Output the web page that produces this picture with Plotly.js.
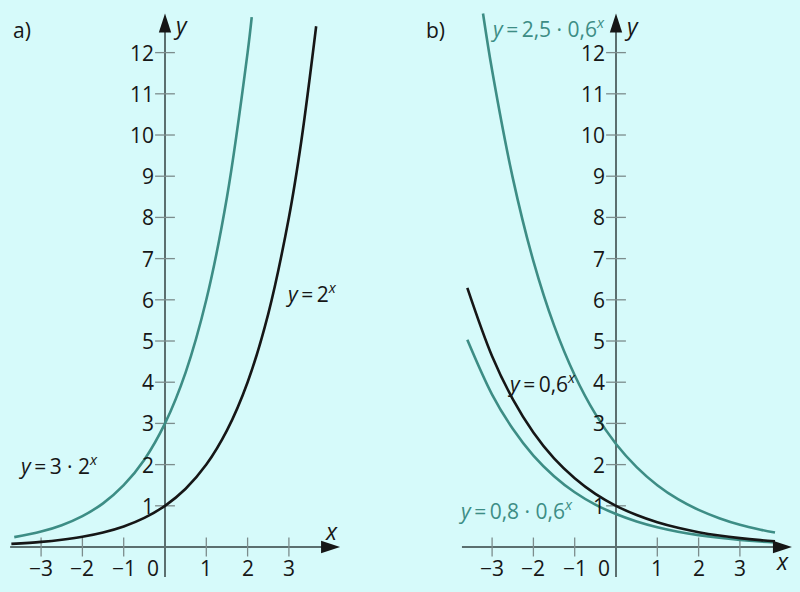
<!DOCTYPE html>
<html>
<head>
<meta charset="utf-8">
<script src="https://cdn.plot.ly/plotly-3.0.1.min.js"></script>
<style>html,body{margin:0;padding:0;background:#d6fafa;}#chart{width:800px;height:592px;}</style>
</head>
<body>
<div id="chart"></div>
<script>
// Panel a) curves
const aX_black = [-3.72, -3, -2.5, -2, -1.5, -1, -0.5, 0, 0.5, 1, 1.5, 2, 2.5, 3, 3.3, 3.66];
const aY_black = [0.076, 0.125, 0.177, 0.25, 0.354, 0.5, 0.707, 1, 1.414, 2, 2.83, 4, 5.66, 8, 9.85, 12.64];
const aX_teal = [-3.65, -3, -2.5, -2, -1.5, -1, -0.5, 0, 0.5, 1, 1.5, 2, 2.1];
const aY_teal = [0.24, 0.375, 0.53, 0.75, 1.06, 1.5, 2.12, 3, 4.24, 6, 8.49, 12, 12.86];
// Panel b) curves
const bX_upper = [-3.22, -3, -2.5, -2, -1.5, -1, -0.5, 0, 0.5, 1, 1.5, 2, 2.5, 3, 3.5, 3.85];
const bY_upper = [12.95, 11.57, 8.96, 6.94, 5.38, 4.17, 3.23, 2.5, 1.94, 1.5, 1.16, 0.9, 0.70, 0.54, 0.42, 0.35];
const bX_black = [-3.6, -3, -2.5, -2, -1.5, -1, -0.5, 0, 0.5, 1, 1.5, 2, 2.5, 3, 3.5, 3.85];
const bY_black = [6.29, 4.63, 3.59, 2.78, 2.15, 1.67, 1.29, 1, 0.775, 0.6, 0.465, 0.36, 0.279, 0.216, 0.167, 0.14];
const bX_lower = [-3.6, -3, -2.5, -2, -1.5, -1, -0.5, 0, 0.5, 1, 1.5, 2, 2.5, 3, 3.5, 3.85];
const bY_lower = [5.03, 3.70, 2.87, 2.22, 1.72, 1.33, 1.03, 0.8, 0.62, 0.48, 0.372, 0.288, 0.223, 0.173, 0.134, 0.112];
// Ticks
const xTickVals = [-3, -2, -1, 1, 2, 3];
const xTickText = ['\u22123', '\u22122', '\u22121', '1', '2', '3'];
const yTickVals = [1, 2, 3, 4, 5, 6, 7, 8, 9, 10, 11, 12];
const yTickText = ['1', '2', '3', '4', '5', '6', '7', '8', '9', '10', '11', '12'];

const TEAL = '#3d8d85';
const BLACK = '#161616';
const AXIS = '#5b6f6f';
const TICK = '#7c8c8c';
const FONT = 'Open Sans, Noto Sans, sans-serif';
const FS = 21;

const traces = [
  {x: aX_teal, y: aY_teal, xaxis: 'x', yaxis: 'y', mode: 'lines', line: {color: TEAL, width: 2.6, shape: 'spline'}},
  {x: aX_black, y: aY_black, xaxis: 'x', yaxis: 'y', mode: 'lines', line: {color: BLACK, width: 2.6, shape: 'spline'}},
  {x: bX_upper, y: bY_upper, xaxis: 'x2', yaxis: 'y2', mode: 'lines', line: {color: TEAL, width: 2.6, shape: 'spline'}},
  {x: bX_lower, y: bY_lower, xaxis: 'x2', yaxis: 'y2', mode: 'lines', line: {color: TEAL, width: 2.6, shape: 'spline'}},
  {x: bX_black, y: bY_black, xaxis: 'x2', yaxis: 'y2', mode: 'lines', line: {color: BLACK, width: 2.6, shape: 'spline'}}
];

const shapes = [];
const annotations = [];
const panels = [
  {xr: 'x', yr: 'y', xa: 'x', ya: 'y', xmin: -3.75, xmax: 4.24, label: 'a)', labelX: -3.46},
  {xr: 'x2', yr: 'y2', xa: 'x2', ya: 'y2', xmin: -3.73, xmax: 4.26, label: 'b)', labelX: -4.36}
];
panels.forEach(p => {
  // axis lines
  shapes.push({type: 'line', xref: p.xr, yref: p.yr, x0: p.xmin, x1: p.xmax - 0.3, y0: 0, y1: 0, line: {color: AXIS, width: 2}, layer: 'below'});
  shapes.push({type: 'line', xref: p.xr, yref: p.yr, x0: 0, x1: 0, y0: -0.73, y1: 12.6, line: {color: AXIS, width: 2}, layer: 'below'});
  // arrowheads as markers
  traces.push({x: [p.xmax, 0], y: [0, 12.95], xaxis: p.xa, yaxis: p.ya, mode: 'markers', hoverinfo: 'skip',
    marker: {symbol: 'arrow', size: 20, angle: [90, 0], color: BLACK, line: {width: 0}}});
  // ticks
  xTickVals.forEach((v, i) => {
    shapes.push({type: 'line', xref: p.xr, yref: p.yr, x0: v, x1: v, y0: -0.23, y1: 0.23, line: {color: TICK, width: 1.3}, layer: 'below'});
    annotations.push({xref: p.xr, yref: p.yr, x: v, y: -0.5, text: xTickText[i], showarrow: false, xanchor: 'center', yanchor: 'middle', font: {family: FONT, size: FS, color: BLACK}});
  });
  yTickVals.forEach((v, i) => {
    shapes.push({type: 'line', xref: p.xr, yref: p.yr, x0: -0.24, x1: 0.24, y0: v, y1: v, line: {color: TICK, width: 1.3}, layer: 'below'});
    annotations.push({xref: p.xr, yref: p.yr, x: -0.22, y: v, text: yTickText[i], showarrow: false, xanchor: 'right', yanchor: 'middle', font: {family: FONT, size: FS, color: BLACK}});
  });
  annotations.push({xref: p.xr, yref: p.yr, x: -0.1, y: -0.5, text: '0', showarrow: false, xanchor: 'right', yanchor: 'middle', font: {family: FONT, size: FS, color: BLACK}});
  // panel label
  annotations.push({xref: p.xr, yref: p.yr, x: p.labelX, y: 12.55, text: p.label, showarrow: false, xanchor: 'center', yanchor: 'middle', font: {family: FONT, size: 21, color: BLACK}});
});
// axis names
annotations.push({xref: 'x', yref: 'y', x: 0.38, y: 12.66, text: '<i>y</i>', showarrow: false, font: {family: FONT, size: 23, color: BLACK}});
annotations.push({xref: 'x', yref: 'y', x: 4.04, y: 0.4, text: '<i>x</i>', showarrow: false, font: {family: FONT, size: 23, color: BLACK}});
annotations.push({xref: 'x2', yref: 'y2', x: 0.38, y: 12.64, text: '<i>y</i>', showarrow: false, font: {family: FONT, size: 23, color: BLACK}});
annotations.push({xref: 'x2', yref: 'y2', x: 4.02, y: -0.33, text: '<i>x</i>', showarrow: false, font: {family: FONT, size: 23, color: BLACK}});
// equation labels
const eq = (xr, yr, x, y, t, c) => annotations.push({xref: xr, yref: yr, x: x, y: y, text: t, showarrow: false, xanchor: 'left', yanchor: 'middle', font: {family: FONT, size: FS, color: c}});
eq('x', 'y', -3.6, 2.0, '<i>y</i>\u2009=\u20093 \u00b7 2<sup><i>x</i></sup>', BLACK);
eq('x', 'y', 2.85, 6.17, '<i>y</i>\u2009=\u20092<sup><i>x</i></sup>', BLACK);
eq('x2', 'y2', -3.1, 12.6, '<i>y</i>\u2009=\u20092,5 \u00b7 0,6<sup><i>x</i></sup>', TEAL);
eq('x2', 'y2', -2.68, 4.0, '<i>y</i>\u2009=\u20090,6<sup><i>x</i></sup>', BLACK);
eq('x2', 'y2', -3.88, 0.9, '<i>y</i>\u2009=\u20090,8 \u00b7 0,6<sup><i>x</i></sup>', TEAL);

const layout = {
  width: 800, height: 592,
  margin: {l: 0, r: 0, t: 0, b: 0},
  paper_bgcolor: '#d6fafa', plot_bgcolor: '#d6fafa',
  showlegend: false,
  xaxis: {domain: [0, 0.5], range: [-3.995, 5.69], visible: false, fixedrange: true},
  yaxis: {domain: [0, 1], range: [-1.092, 13.277], visible: false, anchor: 'x', fixedrange: true},
  xaxis2: {domain: [0.5, 1], range: [-5.23, 4.455], visible: false, anchor: 'y2', fixedrange: true},
  yaxis2: {domain: [0, 1], range: [-1.092, 13.277], visible: false, anchor: 'x2', fixedrange: true},
  shapes: shapes,
  annotations: annotations
};
Plotly.newPlot('chart', traces, layout, {staticPlot: true});
</script>
</body>
</html>
